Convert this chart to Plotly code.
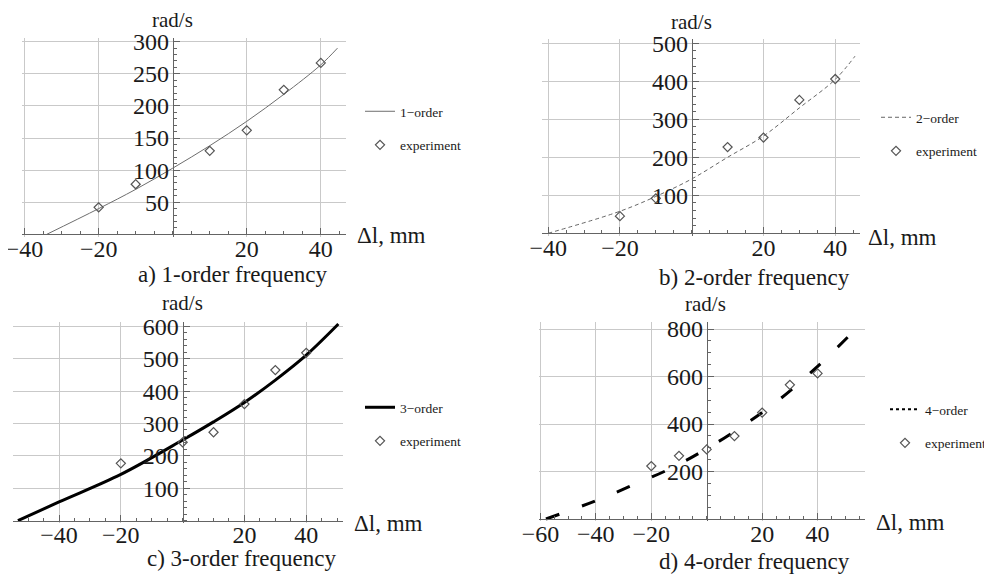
import plotly.graph_objects as go

# ---------------- data ----------------
# a) 1-order frequency
a_exp_x = [-20, -10, 10, 20, 30, 40]
a_exp_y = [42, 78, 130, 162, 225, 267]
a_fit_x = [-34, -20, -10, 0, 10, 20, 30, 40, 44.5]
a_fit_y = [0, 40, 70, 103, 138, 176, 218, 264, 290]

# b) 2-order frequency
b_exp_x = [-20, -10, 10, 20, 30, 40]
b_exp_y = [45, 92, 227, 252, 351, 406]
b_fit_x = [-40, -20, -10, 0, 10, 20, 30, 40, 45.5]
b_fit_y = [0, 58, 97, 143, 200, 256, 330, 405, 466]

# c) 3-order frequency
c_exp_x = [-20, 0, 10, 20, 30, 40]
c_exp_y = [177, 242, 273, 360, 465, 518]
c_fit_x = [-53.3, -40, -20, 0, 10, 20, 30, 40, 50.4]
c_fit_y = [0, 58, 143, 249, 305, 365, 434, 511, 607]

# d) 4-order frequency
d_exp_x = [-20, -10, 0, 10, 20, 30, 40]
d_exp_y = [223, 266, 293, 349, 448, 565, 613]
d_fit_x = [-58, -40, -28, -13, 0, 13, 26, 39, 51]
d_fit_y = [0, 77, 136, 213, 296, 392, 501, 632, 767]

# tick labels
a_xticks = [-40, -20, 20, 40]
a_yticks = [50, 100, 150, 200, 250, 300]
b_xticks = [-40, -20, 20, 40]
b_yticks = [100, 200, 300, 400, 500]
c_xticks = [-40, -20, 20, 40]
c_yticks = [100, 200, 300, 400, 500, 600]
d_xticks = [-60, -40, -20, 20, 40]
d_yticks = [200, 400, 600, 800]

names_fit = ["1\u2212order", "2\u2212order", "3\u2212order", "4\u2212order"]
exp_name = "experiment"
captions = ["a) 1-order frequency", "b) 2-order frequency",
            "c) 3-order frequency", "d) 4-order frequency"]
y_unit = "rad/s"
x_unit = "\u0394l, mm"

# ---------------- style ----------------
W, H = 992, 576
OFF = 8  # page body margin of the html page
SERIF = "Liberation Serif, Times New Roman, serif"
AX = "#646464"
GRID = "#c9c9c9"
TXT = "#1a1a1a"
MK = "#555555"

def px(x):
    return (x - OFF) / W

def py(y):
    return 1 - (y - OFF) / H

# panel geometry in screen pixels: x domain, y domain (top,bottom), ranges
panels = [
    dict(xd=(22, 346), yd=(38, 237), xr=(-40.7, 46.8), yr=(-4.2, 305.8),
         xt=a_xticks, yt=a_yticks, xm=5, ym=10),
    dict(xd=(541.7, 860), yd=(39, 236), xr=(-41.8, 46.9), yr=(-7.1, 511.3),
         xt=b_xticks, yt=b_yticks, xm=5, ym=20),
    dict(xd=(13, 343), yd=(321.7, 523), xr=(-54.9, 51.9), yr=(-7.1, 614.2),
         xt=c_xticks, yt=c_yticks, xm=5, ym=20),
    dict(xd=(539.3, 865), yd=(322.3, 521), xr=(-60.4, 57.1), yr=(-8.4, 828.2),
         xt=d_xticks, yt=d_yticks, xm=5, ym=50),
]

fig = go.Figure()

fits = [(a_fit_x, a_fit_y), (b_fit_x, b_fit_y), (c_fit_x, c_fit_y), (d_fit_x, d_fit_y)]
exps = [(a_exp_x, a_exp_y), (b_exp_x, b_exp_y), (c_exp_x, c_exp_y), (d_exp_x, d_exp_y)]
line_styles = [
    dict(color="#6e6e6e", width=1),
    dict(color="#666666", width=1, dash="4px,3px"),
    dict(color="#000000", width=3),
    dict(color="#000000", width=3, dash="14px,24px"),
]

layout_axes = {}
for i, p in enumerate(panels):
    k = "" if i == 0 else str(i + 1)
    xa, ya = "x" + k, "y" + k
    lg = "legend" + k
    fx, fy = fits[i]
    ex, ey = exps[i]
    if i < 3:
        fig.add_trace(go.Scatter(x=fx, y=fy, mode="lines", line=line_styles[i],
                                 line_shape="spline", name=names_fit[i],
                                 xaxis=xa, yaxis=ya, legend=lg,
                                 legendgroup=f"f{i}"))
    else:
        fig.add_trace(go.Scatter(x=fx, y=fy, mode="lines", line=line_styles[i],
                                 line_shape="spline", name=names_fit[i],
                                 xaxis=xa, yaxis=ya, showlegend=False))
        # legend sample drawn dotted as in the reference legend
        fig.add_trace(go.Scatter(x=[None], y=[None], mode="lines",
                                 line=dict(color="#000000", width=2, dash="dot"),
                                 name=names_fit[i], xaxis=xa, yaxis=ya,
                                 legend=lg, legendgroup=f"f{i}"))
    fig.add_trace(go.Scatter(x=ex, y=ey, mode="markers",
                             marker=dict(symbol="diamond-open", size=7,
                                         color=MK, line=dict(width=1.2, color=MK)),
                             name=exp_name, xaxis=xa, yaxis=ya, legend=lg,
                             legendgroup=f"e{i}"))

    xdom = [px(p["xd"][0]), px(p["xd"][1])]
    ydom = [py(p["yd"][1]), py(p["yd"][0])]
    # position of the crossing axes (x=0 and y=0) in paper fraction
    xpos0 = xdom[0] + (0 - p["xr"][0]) / (p["xr"][1] - p["xr"][0]) * (xdom[1] - xdom[0])
    ypos0 = ydom[0] + (0 - p["yr"][0]) / (p["yr"][1] - p["yr"][0]) * (ydom[1] - ydom[0])

    common = dict(ticks="inside", tickcolor=AX, ticklen=6, tickwidth=1,
                  showline=True, linecolor=AX, linewidth=1,
                  showgrid=True, gridcolor=GRID, gridwidth=1, zeroline=False,
                  tickfont=dict(family=SERIF, size=24, color=TXT),
                  ticklabeloverflow="allow",
                  fixedrange=True, tickmode="array", automargin=False)
    layout_axes["xaxis" + k] = dict(domain=xdom, range=list(p["xr"]), anchor="free",
                                    position=ypos0, tickvals=p["xt"],
                                    ticklabelstandoff=-7,
                                    minor=dict(tickmode="linear", tick0=0, dtick=p["xm"],
                                               ticks="inside", ticklen=3,
                                               tickcolor=AX, showgrid=False),
                                    **common)
    layout_axes["yaxis" + k] = dict(domain=ydom, range=list(p["yr"]), anchor="free",
                                    position=xpos0, tickvals=p["yt"],
                                    ticklabelstandoff=-1,
                                    minor=dict(tickmode="linear", tick0=0, dtick=p["ym"],
                                               ticks="inside", ticklen=3,
                                               tickcolor=AX, showgrid=False),
                                    **common)

fig.update_layout(**layout_axes)

# legends: (text start x, first item centre y) in screen pixels
legend_pos = [(400, 112), (916, 118), (400, 408), (925, 410)]
for i, (lx, ly) in enumerate(legend_pos):
    k = "" if i == 0 else str(i + 1)
    fig.update_layout(**{"legend" + k: dict(
        x=px(lx - 40), y=py(ly - 16), xanchor="left", yanchor="top",
        bgcolor="rgba(0,0,0,0)", borderwidth=0,
        font=dict(family=SERIF, size=13.5, color=TXT),
        tracegroupgap=13, itemwidth=30, traceorder="grouped")})

annotations = []
cap_pos = [(232, 274), (754, 277), (241, 558), (754, 561)]
for (cx, cy), txt in zip(cap_pos, captions):
    annotations.append(dict(x=px(cx), y=py(cy), xref="paper", yref="paper",
                            text=txt, showarrow=False, xanchor="center", yanchor="middle",
                            font=dict(family=SERIF, size=23, color=TXT)))
yu_pos = [(172.7, 20), (691.7, 22), (182.7, 303), (705, 304)]
for (cx, cy) in yu_pos:
    annotations.append(dict(x=px(cx), y=py(cy), xref="paper", yref="paper",
                            text=y_unit, showarrow=False, xanchor="center", yanchor="middle",
                            font=dict(family=SERIF, size=21, color=TXT)))
xu_pos = [(355, 235), (866, 237), (352, 523), (874, 522)]
for (cx, cy) in xu_pos:
    annotations.append(dict(x=px(cx), y=py(cy), xref="paper", yref="paper",
                            text=x_unit, showarrow=False, xanchor="left", yanchor="middle",
                            font=dict(family=SERIF, size=23, color=TXT)))

fig.update_layout(width=W, height=H, margin=dict(l=0, r=0, t=0, b=0, autoexpand=False),
                  paper_bgcolor="white", plot_bgcolor="white",
                  annotations=annotations, showlegend=True)

fig.write_html("out.html")
